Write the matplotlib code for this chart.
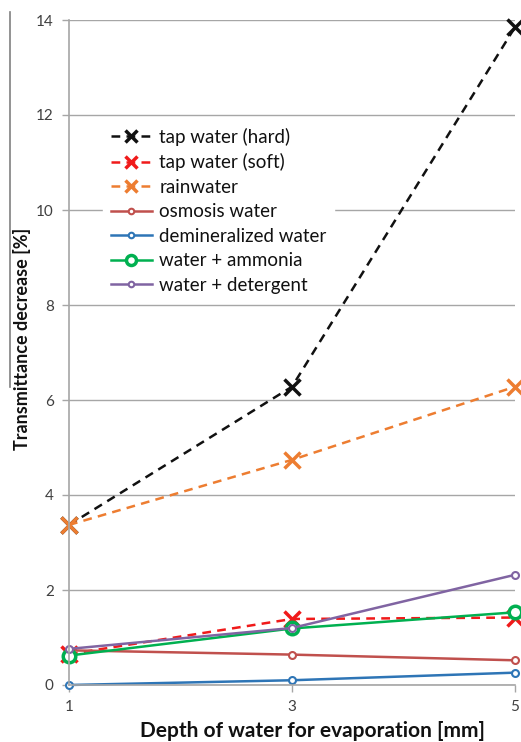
import matplotlib
matplotlib.use("Agg")
import matplotlib.pyplot as plt
from matplotlib.lines import Line2D

plt.rcParams['font.family'] = ['Lato', 'DejaVu Sans']

depths = ["1", "3", "5"]
tap_hard = [3.37, 6.28, 13.85]
tap_soft = [0.65, 1.39, 1.42]
rainwater = [3.37, 4.74, 6.28]
osmosis = [0.73, 0.64, 0.52]
demineralized = [0.0, 0.10, 0.26]
ammonia = [0.62, 1.19, 1.53]
detergent = [0.76, 1.20, 2.32]
y_ticks = [0, 2, 4, 6, 8, 10, 12, 14]

W, H = 521, 742
fig = plt.figure(figsize=(W / 100, H / 100), dpi=100)
ax = fig.add_axes([69 / W, 1 - 685 / H, (515 - 69) / W, (685 - 20) / H])

x = list(range(len(depths)))
dash = (0, (3.5, 2.5))
series = [
    ("tap water (hard)", tap_hard, "#111111", dash, "x", 11, 2.5, None),
    ("tap water (soft)", tap_soft, "#f01a1a", dash, "x", 11, 2.5, None),
    ("rainwater", rainwater, "#ed7d31", dash, "x", 11, 2.5, None),
    ("osmosis water", osmosis, "#c0504d", "-", "o", 5, 1.5, "white"),
    ("demineralized water", demineralized, "#2e75b6", "-", "o", 5, 1.5, "white"),
    ("water + ammonia", ammonia, "#00b050", "-", "o", 9, 2.5, "white"),
    ("water + detergent", detergent, "#8064a2", "-", "o", 5, 1.5, "white"),
]
for label, vals, col, ls, mk, ms, mew, mfc in series:
    ax.plot(x, vals, color=col, linestyle=ls, linewidth=1.8, marker=mk,
            markersize=ms, markeredgewidth=mew, markeredgecolor=col,
            markerfacecolor=mfc if mfc else col, label=label, clip_on=False)

ax.set_xlim(0, len(depths) - 1)
ax.set_ylim(0, 14)
ax.set_yticks(y_ticks)
ax.set_xticks(x)
ax.set_xticklabels(depths)
ax.yaxis.grid(True, color="#a6a6a6", linewidth=1.0)
ax.set_axisbelow(True)
for s in ["top", "right"]:
    ax.spines[s].set_visible(False)
for s in ["left", "bottom"]:
    ax.spines[s].set_color("#a6a6a6")
    ax.spines[s].set_linewidth(1.2)
ax.tick_params(axis="both", colors="#a6a6a6", labelcolor="#404040",
               labelsize=11, length=5, width=1.0)
ax.tick_params(axis="y", pad=6)
ax.tick_params(axis="x", pad=6)

ax.set_ylabel("Transmittance decrease [%]", fontsize=13, fontweight="bold",
              color="#111111")
ax.yaxis.set_label_coords(-38 / 446, 0.52)
ax.set_xlabel("Depth of water for evaporation [mm]", fontsize=15,
              fontweight="bold", color="#111111", labelpad=5)
ax.xaxis.label.set_x((313 - 69) / 446)

leg = ax.legend(loc="upper left", bbox_to_anchor=(34 / 446, (685 - 120) / 665),
                borderaxespad=0, frameon=True, fontsize=13.5, handlelength=2.2,
                labelspacing=0.4, borderpad=0.4, handletextpad=0.4,
                markerscale=0.8)
leg.get_frame().set_facecolor("white")
leg.get_frame().set_edgecolor("white")
leg.get_frame().set_alpha(1.0)
for t in leg.get_texts():
    t.set_color("#111111")

fig.add_artist(Line2D([10 / W, 10 / W], [1 - 12 / H, 1 - 387 / H],
                      transform=fig.transFigure, color="#808080", linewidth=1.2))

fig.savefig("out.png", dpi=100)
